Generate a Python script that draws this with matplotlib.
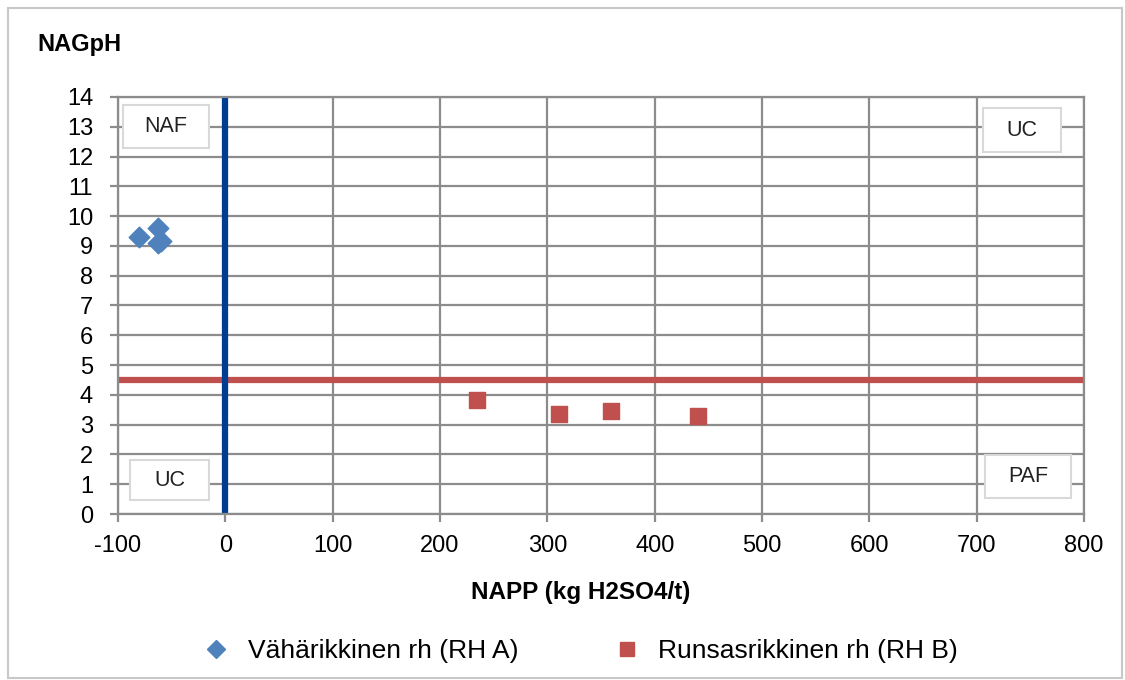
import matplotlib.pyplot as plt
from matplotlib.lines import Line2D
from matplotlib.patches import Rectangle

plt.rcParams['font.family'] = ['Liberation Sans', 'DejaVu Sans']
plt.rcParams['axes.unicode_minus'] = False

# data
rh_a_x = [-80, -63, -63, -60]
rh_a_y = [9.3, 9.6, 9.1, 9.15]
rh_b_x = [234, 311, 359, 440]
rh_b_y = [3.83, 3.36, 3.46, 3.29]
ph_limit = 4.5
napp_limit = 0
zone_labels = ['NAF', 'UC', 'UC', 'PAF']

fig = plt.figure(figsize=(11.25, 6.8), dpi=100)
ax = fig.add_axes([0.1049, 0.2441, 0.8587, 0.6133])

grid_c = '#8c8c8c'
ax.set_xlim(-100, 800)
ax.set_ylim(0, 14)
ax.set_xticks(range(-100, 801, 100))
ax.set_yticks(range(0, 15))
ax.grid(True, color=grid_c, linewidth=1.6)
ax.set_axisbelow(True)
for s in ax.spines.values():
    s.set_color(grid_c)
    s.set_linewidth(1.6)
ax.tick_params(axis='both', colors=grid_c, labelcolor='black', labelsize=17,
               length=6, width=1.6, direction='out')
ax.tick_params(axis='x', pad=9)
ax.tick_params(axis='y', pad=12)

ax.axhline(ph_limit, color='#c0504d', linewidth=4.5, zorder=2)
ax.axvline(napp_limit, color='#003d91', linewidth=4.5, zorder=2)

ax.scatter(rh_a_x, rh_a_y, marker='D', s=110, color='#4f81bd', zorder=3)
ax.scatter(rh_b_x, rh_b_y, marker='s', s=140, color='#c0504d', zorder=3)

# zone label boxes (x0, x1, y0, y1 in data units)
boxes = [(-95.3, -15.2, 12.28, 13.72), (706, 778.6, 12.15, 13.62),
         (-88.8, -15.2, 0.47, 1.81), (707.8, 787.9, 0.54, 1.98)]
for (x0, x1, y0, y1), lab in zip(boxes, zone_labels):
    ax.add_patch(Rectangle((x0, y0), x1 - x0, y1 - y0, facecolor='white',
                           edgecolor='#d9d9d9', linewidth=1.5, zorder=4))
    ax.text((x0 + x1) / 2, (y0 + y1) / 2, lab, fontsize=15.5, ha='center',
            va='center', color='#222222', zorder=5)

fig.text(0.033, 0.934, 'NAGpH', fontsize=17, fontweight='bold', ha='left', va='center')
fig.text(0.516, 0.128, 'NAPP (kg H2SO4/t)', fontsize=17.5, fontweight='bold',
         ha='center', va='center')

handles = [
    Line2D([], [], marker='D', linestyle='none', color='#4f81bd', markersize=9),
    Line2D([], [], marker='s', linestyle='none', color='#c0504d', markersize=10),
]
fig.legend(handles, ['Vähärikkinen rh (RH A)', 'Runsasrikkinen rh (RH B)'],
           loc='center', bbox_to_anchor=(0.516, 0.043), ncol=2, frameon=False,
           fontsize=19, handlelength=1.0, columnspacing=3.6, handletextpad=0.7)

# outer chart border
fig.patches.append(Rectangle((0.007, 0.003), 0.99, 0.985, transform=fig.transFigure,
                             fill=False, edgecolor='#c8c8c8', linewidth=1.5))

fig.savefig('out.png', dpi=100, facecolor='white')
